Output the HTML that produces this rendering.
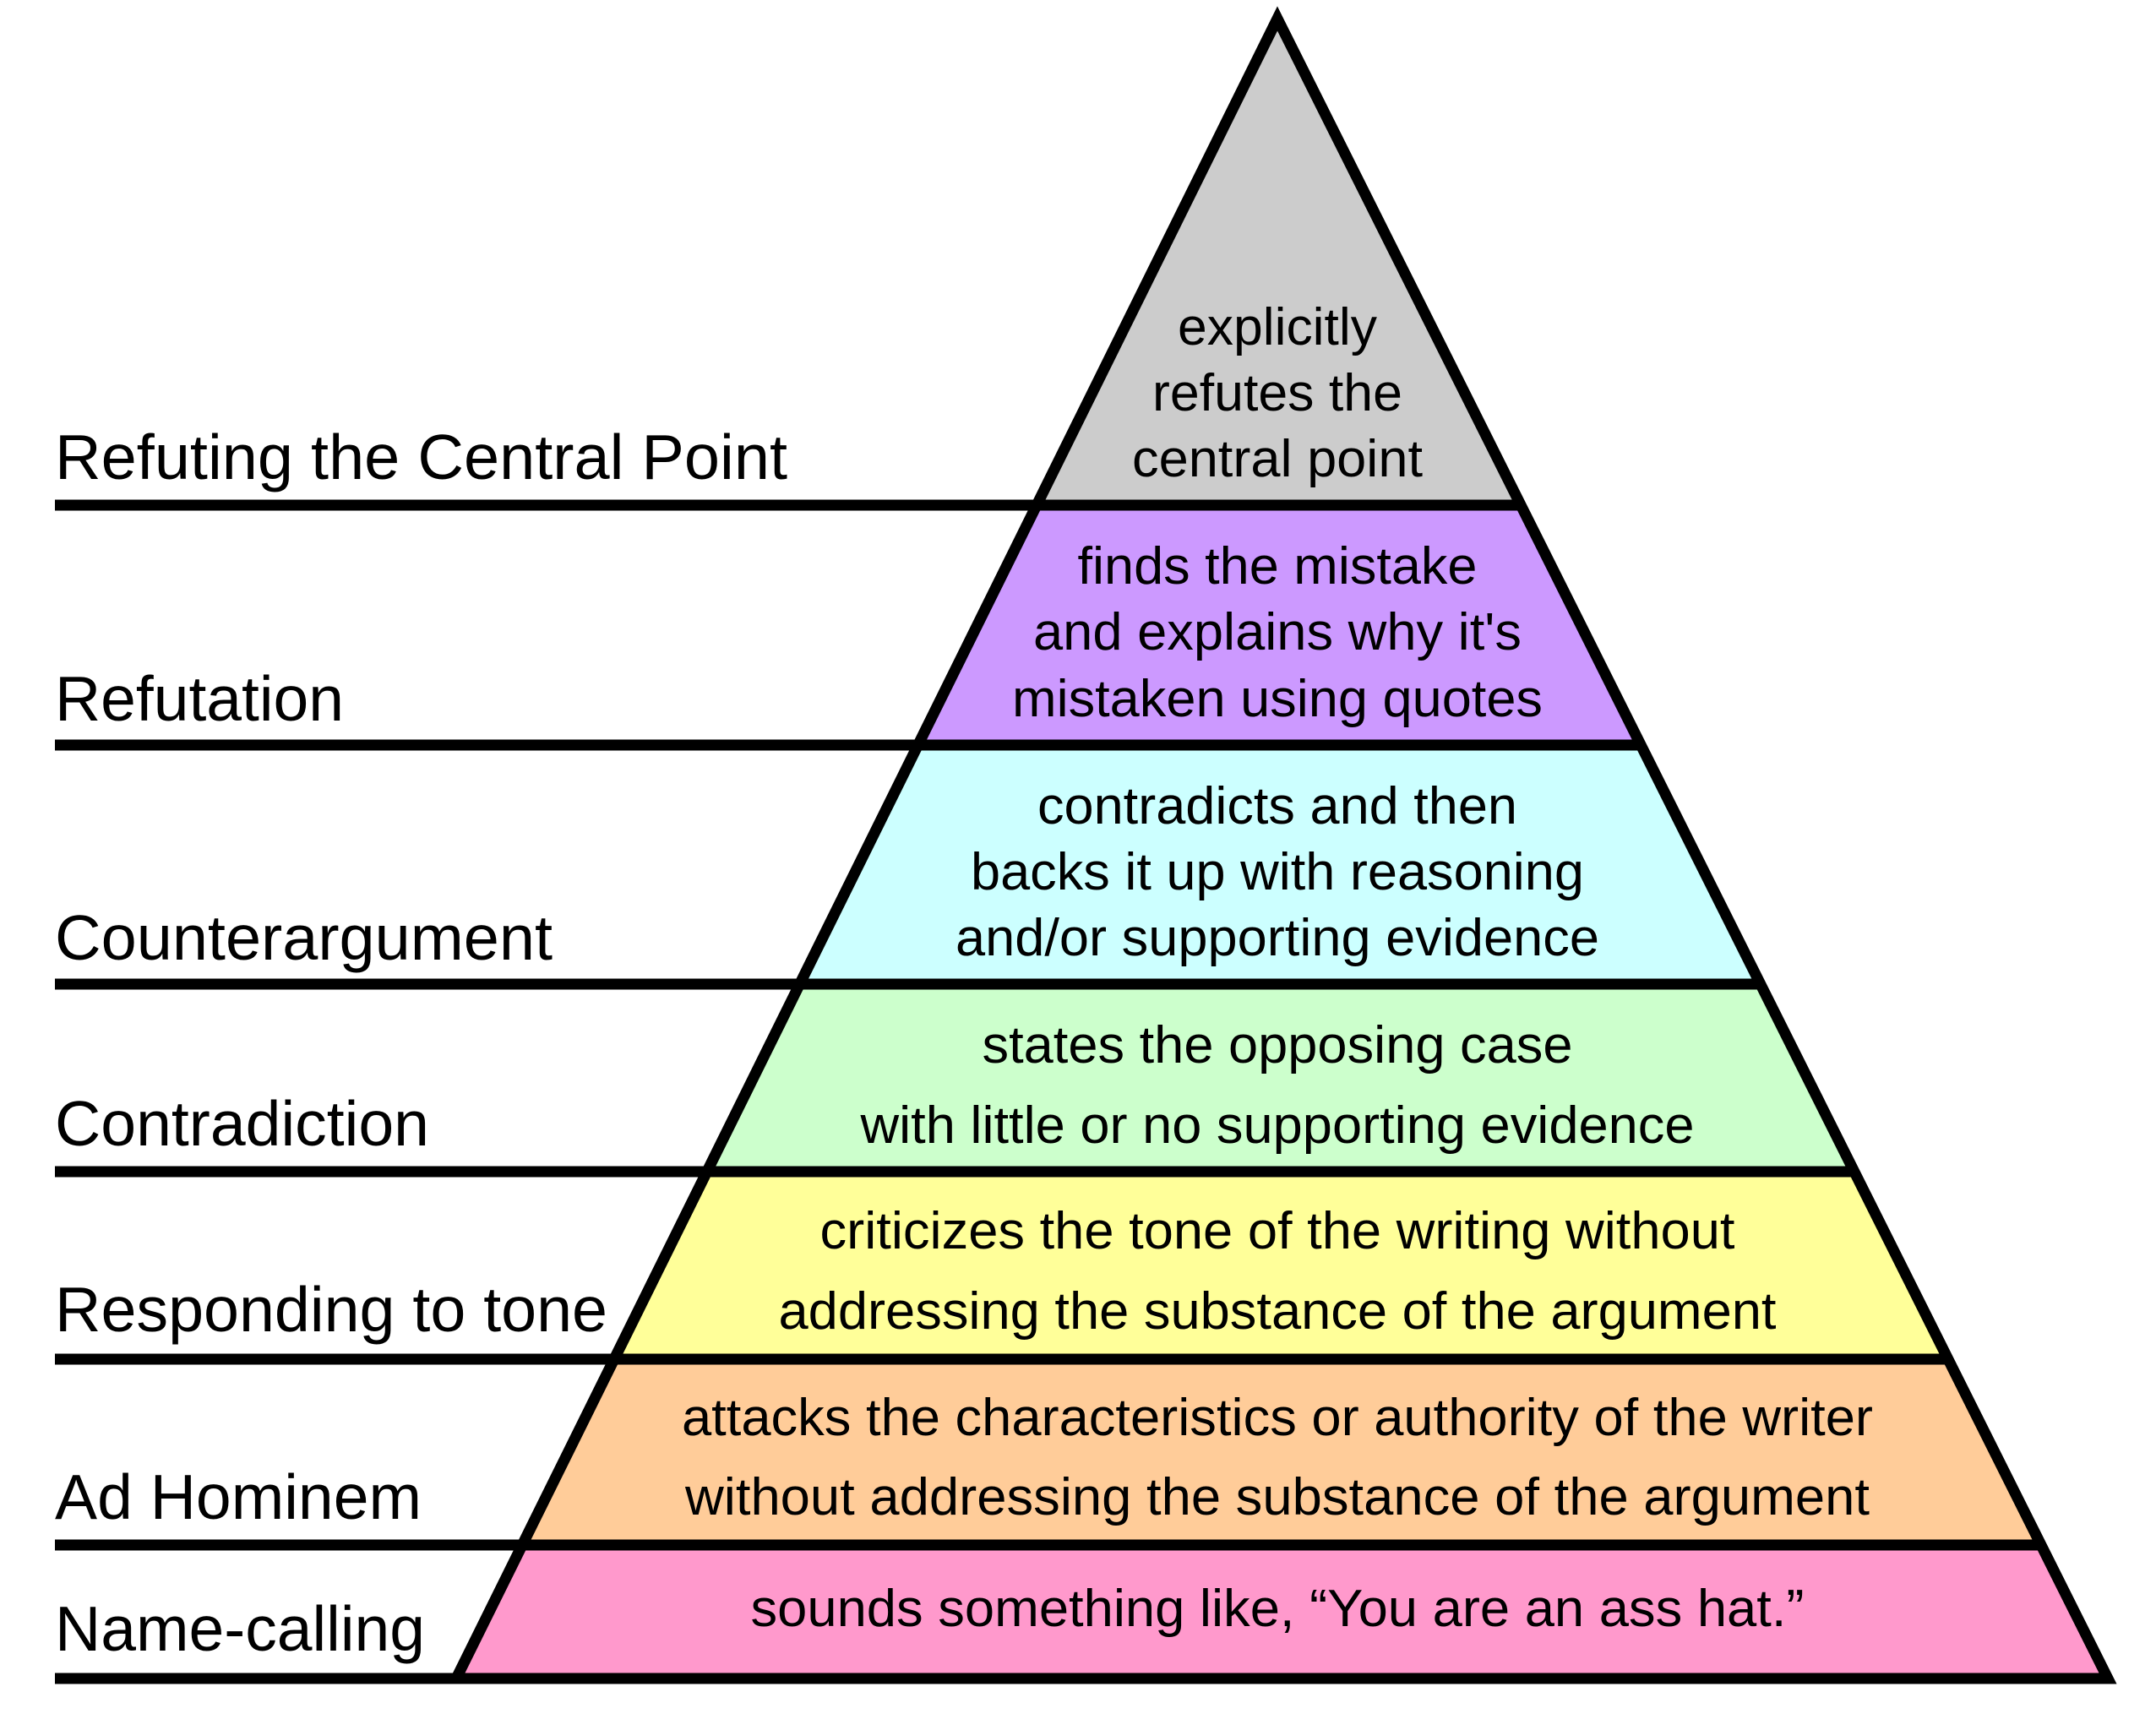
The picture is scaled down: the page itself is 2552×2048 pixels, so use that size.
<!DOCTYPE html>
<html><head><meta charset="utf-8"><style>html,body{margin:0;padding:0;background:#fff}svg{display:block}</style></head>
<body>
<svg width="2552" height="2048" viewBox="0 0 2552 2048" xmlns="http://www.w3.org/2000/svg" font-family="Liberation Sans, Arial, sans-serif">
<polygon points="1512,22 1802,598 1228,598" fill="#cccccc"/>
<polygon points="1228,598 1802,598 1943,882 1087,882" fill="#cc99ff"/>
<polygon points="1087,882 1943,882 2085,1165 946,1165" fill="#ccffff"/>
<polygon points="946,1165 2085,1165 2195,1387 836,1387" fill="#ccffcc"/>
<polygon points="836,1387 2195,1387 2306,1609 727,1609" fill="#ffff99"/>
<polygon points="727,1609 2306,1609 2416,1829 617,1829" fill="#ffcc99"/>
<polygon points="617,1829 2416,1829 2495,1987 540,1987" fill="#ff99cc"/>
<g stroke="#000" stroke-width="13">
<line x1="65" y1="598" x2="1802" y2="598"/>
<line x1="65" y1="882" x2="1943" y2="882"/>
<line x1="65" y1="1165" x2="2085" y2="1165"/>
<line x1="65" y1="1387" x2="2195" y2="1387"/>
<line x1="65" y1="1609" x2="2306" y2="1609"/>
<line x1="65" y1="1829" x2="2416" y2="1829"/>
<line x1="65" y1="1987" x2="2495" y2="1987"/>
</g>
<polygon points="1512,22 2495,1987 540,1987" fill="none" stroke="#000" stroke-width="13" stroke-linejoin="miter" stroke-miterlimit="10"/>
<g font-size="75" fill="#000">
<text x="65" y="567" textLength="867" lengthAdjust="spacingAndGlyphs">Refuting the Central Point</text>
<text x="65" y="853" textLength="342" lengthAdjust="spacingAndGlyphs">Refutation</text>
<text x="65" y="1136" textLength="589" lengthAdjust="spacingAndGlyphs">Counterargument</text>
<text x="65" y="1356" textLength="443" lengthAdjust="spacingAndGlyphs">Contradiction</text>
<text x="65" y="1576" textLength="654" lengthAdjust="spacingAndGlyphs">Responding to tone</text>
<text x="65" y="1798" textLength="434" lengthAdjust="spacingAndGlyphs">Ad Hominem</text>
<text x="65" y="1954" textLength="438" lengthAdjust="spacingAndGlyphs">Name-calling</text>
</g>
<g font-size="62" fill="#000" text-anchor="middle">
<text x="1512" y="408" textLength="236" lengthAdjust="spacingAndGlyphs">explicitly</text>
<text x="1512" y="486" textLength="296" lengthAdjust="spacingAndGlyphs">refutes the</text>
<text x="1512" y="564" textLength="344" lengthAdjust="spacingAndGlyphs">central point</text>
<text x="1512" y="691" textLength="473" lengthAdjust="spacingAndGlyphs">finds the mistake</text>
<text x="1512" y="769" textLength="578" lengthAdjust="spacingAndGlyphs">and explains why it's</text>
<text x="1512" y="848" textLength="628" lengthAdjust="spacingAndGlyphs">mistaken using quotes</text>
<text x="1512" y="975" textLength="568" lengthAdjust="spacingAndGlyphs">contradicts and then</text>
<text x="1512" y="1053" textLength="726" lengthAdjust="spacingAndGlyphs">backs it up with reasoning</text>
<text x="1512" y="1131" textLength="762" lengthAdjust="spacingAndGlyphs">and/or supporting evidence</text>
<text x="1512" y="1258" textLength="699" lengthAdjust="spacingAndGlyphs">states the opposing case</text>
<text x="1512" y="1353" textLength="987" lengthAdjust="spacingAndGlyphs">with little or no supporting evidence</text>
<text x="1512" y="1478" textLength="1083" lengthAdjust="spacingAndGlyphs">criticizes the tone of the writing without</text>
<text x="1512" y="1573" textLength="1181" lengthAdjust="spacingAndGlyphs">addressing the substance of the argument</text>
<text x="1512" y="1699" textLength="1410" lengthAdjust="spacingAndGlyphs">attacks the characteristics or authority of the writer</text>
<text x="1512" y="1793" textLength="1402" lengthAdjust="spacingAndGlyphs">without addressing the substance of the argument</text>
<text x="1512" y="1925" textLength="1247" lengthAdjust="spacingAndGlyphs">sounds something like, “You are an ass hat.”</text>
</g>
</svg>
</body></html>
